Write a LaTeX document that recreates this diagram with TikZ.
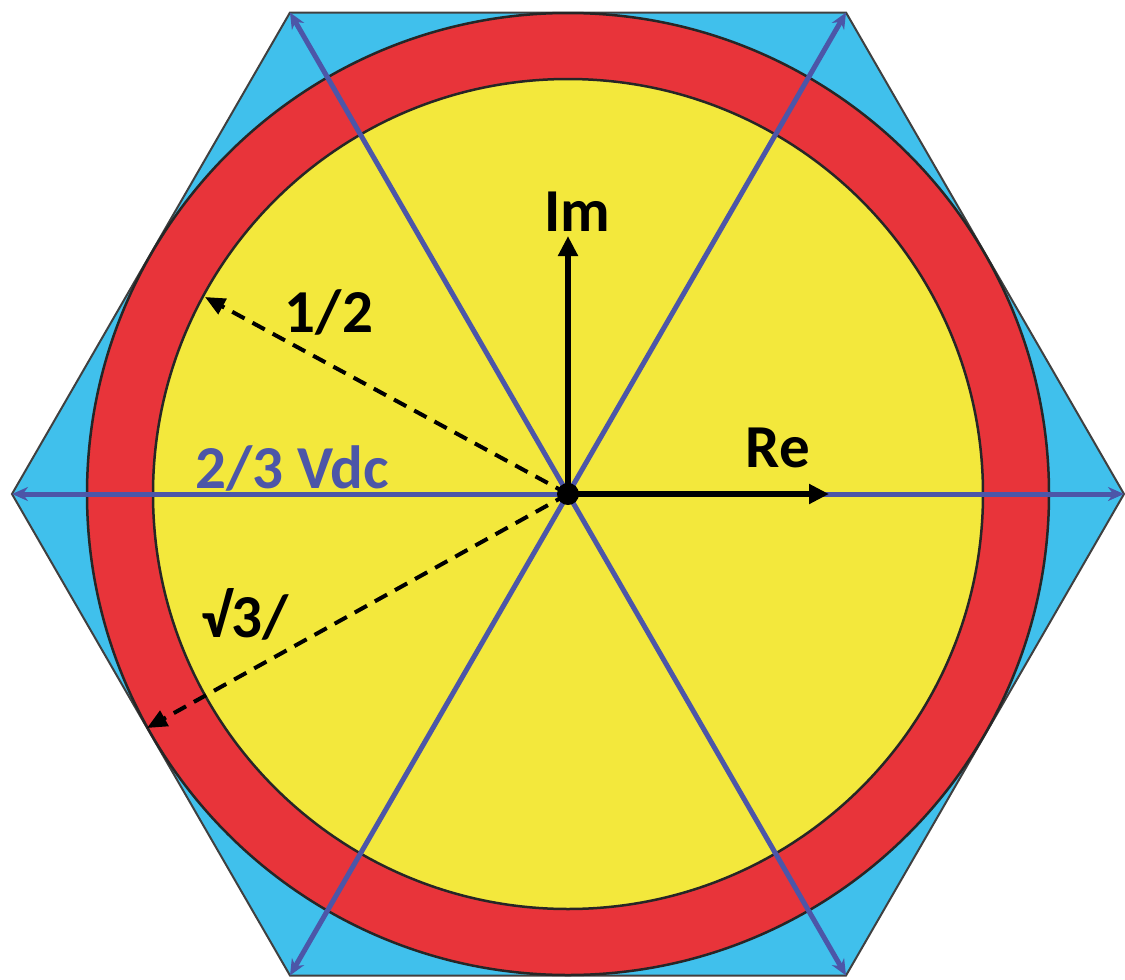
\documentclass[tikz,border=0pt]{standalone}
\usepackage{fontspec}
\setmainfont{Carlito}
\usetikzlibrary{arrows.meta}
\definecolor{hexcyan}{RGB}{64,192,236}
\definecolor{ringred}{RGB}{232,52,58}
\definecolor{discyellow}{RGB}{243,232,60}
\definecolor{spokeblue}{RGB}{76,86,168}
\begin{document}
\begin{tikzpicture}[x=1pt,y=-1pt,
  spoke/.style={draw=spokeblue,line width=5pt,{Stealth[length=16pt,width=14pt]}-{Stealth[length=16pt,width=14pt]}},
  axis/.style={draw=black,line width=5.5pt,-{Triangle[length=20pt,width=19pt]}},
  dasharrow/.style={draw=black,line width=4pt,dash pattern=on 14pt off 9pt,-{Triangle[length=20pt,width=17pt]}},
  lab/.style={font=\fontsize{61}{63}\selectfont\bfseries,inner sep=0pt},
  bluelab/.style={lab,text=spokeblue}]
\useasboundingbox (0,0) rectangle (1125,980);
\coordinate (O) at (568,494);
% hexagon vertices
\coordinate (V0) at (1124,494);
\coordinate (V1) at (846,12.5);
\coordinate (V2) at (290,12.5);
\coordinate (V3) at (12,494);
\coordinate (V4) at (290,975.5);
\coordinate (V5) at (846,975.5);
\fill[hexcyan] (V0)--(V1)--(V2)--(V3)--(V4)--(V5)--cycle;
\draw[black!75,line width=2pt,line join=miter] (V0)--(V1)--(V2)--(V3)--(V4)--(V5)--cycle;
\fill[ringred,draw=black!85,line width=2.5pt] (O) circle[radius=481];
\fill[discyellow,draw=black!85,line width=2.5pt] (O) circle[radius=415];
% spokes
\draw[spoke] (V3) -- (V0);
\draw[spoke] (V4) -- (V1);
\draw[spoke] (V5) -- (V2);
% dashed radii
\coordinate (Ahalf) at (205,297);
\coordinate (Aroot) at (147,728);
\draw[dasharrow] (O) -- (Ahalf);
\draw[dasharrow] (O) -- (Aroot);
% axes
\coordinate (ImTip) at (568,236);
\coordinate (ReTip) at (829,494);
\draw[axis] (O) -- (ImTip);
\draw[axis] (O) -- (ReTip);
\fill[black] (O) circle[radius=11];
% labels
\node[lab] (im) at (577,212) {Im};
\node[lab] (re) at (778,448) {Re};
\node[bluelab] (vdc) at (292,468) {2/3 Vdc};
\node[lab] (half) at (329,312) {1/2};
\node[lab] (root) at (245,614) {√3/};
\end{tikzpicture}
\end{document}
